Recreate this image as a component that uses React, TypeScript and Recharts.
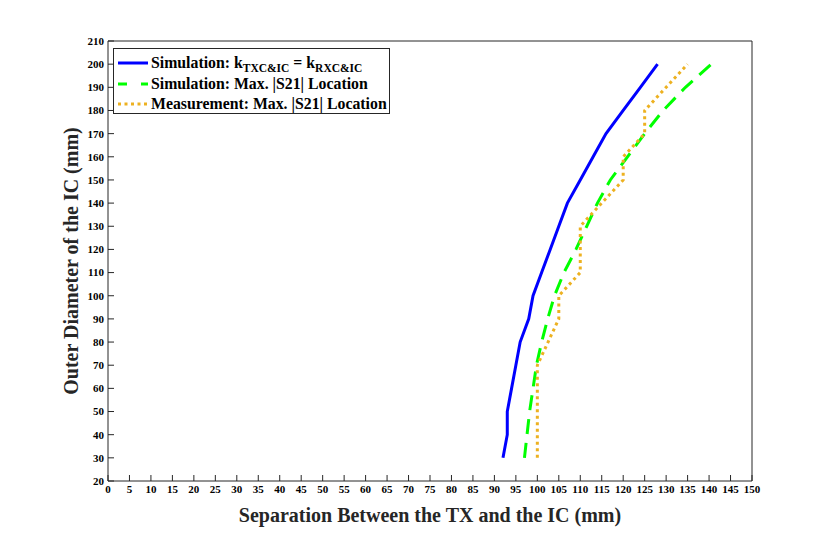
import React from "react";
import { Line, LineChart, XAxis, YAxis } from "recharts";

// outer diameter of the IC (mm), shared by all three curves
const diameters = [30, 40, 50, 60, 70, 80, 90, 100, 110, 120, 130, 140, 150, 160, 170, 180, 190, 200];
// separation (mm) for each curve
const simCoupling = [92, 93, 93, 94, 95, 96, 98, 99, 101, 103, 105, 107, 110, 113, 116, 120, 124, 128];
const simMaxS21 = [97, 97.6, 98.2, 99, 99.8, 101, 102.4, 104, 106.2, 109, 111.5, 114, 117, 121, 125, 129.3, 134.5, 140.5];
const measMaxS21 = [100, 100, 100, 100, 100, 102.5, 105, 105, 110, 110, 110, 115, 120, 120, 125, 125, 130, 135];

const xTicks = Array.from({ length: 31 }, (_, i) => i * 5);
const yTicks = Array.from({ length: 20 }, (_, i) => 20 + i * 10);

const toPoints = (xs: number[]) => diameters.map((d, i) => ({ x: xs[i], y: d }));

const font = "'Liberation Serif', 'Times New Roman', serif";
const axisColor = "#262626";
const tick = { fill: "#000", fontSize: 11, fontWeight: "bold", fontFamily: font };
const axisLabel = { fill: "#262626", fontSize: 20, fontWeight: "bold", fontFamily: font };

const blue = "#0000ff";
const green = "#00ff00";
const orange = "#edb120";

const subStyle = { fontSize: 11.5, verticalAlign: "-4px", lineHeight: 0 };

function LegendRow({ color, dash, children }: { color: string; dash?: string; children: React.ReactNode }) {
  return (
    <div style={{ display: "flex", alignItems: "center", height: 20.5, whiteSpace: "nowrap" }}>
      <svg width={32} height={8} style={{ marginRight: 2, flex: "none" }}>
        <line x1={1} y1={4} x2={31} y2={4} stroke={color} strokeWidth={3} strokeDasharray={dash} />
      </svg>
      <span>{children}</span>
    </div>
  );
}

export default function App() {
  return (
    <div style={{ position: "absolute", left: 0, top: 0, width: 830, height: 541, background: "#fff" }}>
      <LineChart width={830} height={541} margin={{ top: 40, right: 77, left: 60, bottom: 20 }}>
        <XAxis
          xAxisId="b"
          type="number"
          dataKey="x"
          domain={[0, 150]}
          ticks={xTicks}
          interval={0}
          height={40}
          tick={tick}
          tickSize={-6}
          tickMargin={10}
          stroke={axisColor}
          label={{
            value: "Separation Between the TX and the IC (mm)",
            position: "insideBottom",
            offset: -1,
            style: axisLabel
          }}
        />
        <XAxis
          xAxisId="t"
          orientation="top"
          type="number"
          dataKey="x"
          domain={[0, 150]}
          ticks={xTicks}
          interval={0}
          height={1}
          tick={false}
          tickSize={-6}
          stroke={axisColor}
        />
        <YAxis
          yAxisId="l"
          type="number"
          domain={[20, 210]}
          ticks={yTicks}
          interval={0}
          width={48}
          tick={tick}
          tickSize={-6}
          tickMargin={10}
          stroke={axisColor}
          label={{
            value: "Outer Diameter of the IC (mm)",
            angle: -90,
            position: "insideLeft",
            offset: 11,
            style: { ...axisLabel, textAnchor: "middle" }
          }}
        />
        <YAxis
          yAxisId="r"
          orientation="right"
          type="number"
          domain={[20, 210]}
          ticks={yTicks}
          interval={0}
          width={1}
          tick={false}
          tickSize={-6}
          stroke={axisColor}
        />
        <Line
          xAxisId="b"
          yAxisId="l"
          data={toPoints(simCoupling)}
          dataKey="y"
          stroke={blue}
          strokeWidth={3}
          dot={false}
          activeDot={false}
          isAnimationActive={false}
        />
        <Line
          xAxisId="b"
          yAxisId="l"
          data={toPoints(simMaxS21)}
          dataKey="y"
          stroke={green}
          strokeWidth={3}
          strokeDasharray="15 9"
          dot={false}
          activeDot={false}
          isAnimationActive={false}
        />
        <Line
          xAxisId="b"
          yAxisId="l"
          data={toPoints(measMaxS21)}
          dataKey="y"
          stroke={orange}
          strokeWidth={3}
          strokeDasharray="3 3.5"
          dot={false}
          activeDot={false}
          isAnimationActive={false}
        />
      </LineChart>
      <div
        style={{
          position: "absolute",
          left: 113,
          top: 48,
          width: 277,
          height: 66,
          boxSizing: "border-box",
          border: `1px solid ${axisColor}`,
          background: "#fff",
          padding: "4px 0 0 3px",
          fontFamily: font,
          fontWeight: "bold",
          fontSize: 15.8,
          color: "#000",
          lineHeight: "20px",
          overflow: "hidden"
        }}
      >
        <LegendRow color={blue}>
          Simulation: k<sub style={subStyle}>TXC&amp;IC</sub> = k<sub style={subStyle}>RXC&amp;IC</sub>
        </LegendRow>
        <LegendRow color={green} dash="9 14">
          Simulation: Max. |S21| Location
        </LegendRow>
        <LegendRow color={orange} dash="3 3.5">
          Measurement: Max. |S21| Location
        </LegendRow>
      </div>
    </div>
  );
}
